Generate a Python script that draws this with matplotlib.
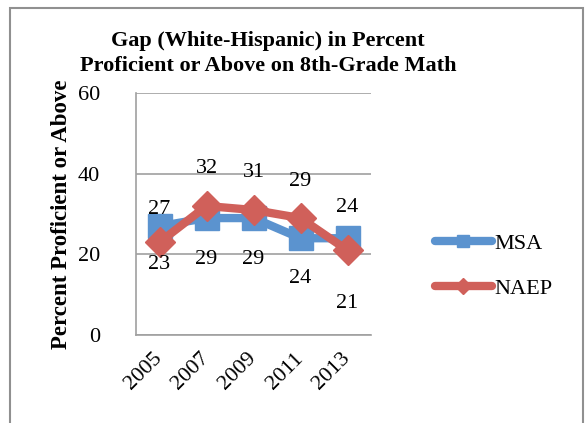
import matplotlib.pyplot as plt
import matplotlib.transforms as mtransforms
from matplotlib.patches import Rectangle

# Data
years = ['2005', '2007', '2009', '2011', '2013']
msa = [27, 29, 29, 24, 24]
naep = [23, 32, 31, 29, 21]

# label offsets (points) as placed in the original chart
msa_off = [12, -30, -30, -29, 22]
naep_off = [-16, 27, 27, 26, -38]

plt.rcParams['font.family'] = ['Liberation Serif', 'DejaVu Serif']

fig = plt.figure(figsize=(5.88, 4.23), dpi=100)
ax = fig.add_axes([0.2313, 0.208, 0.3997, 0.572])

x = list(range(len(years)))
ax.plot(x, msa, color='#5B93CF', lw=6, marker='s', ms=17, label='MSA',
        solid_capstyle='round', zorder=3)
ax.plot(x, naep, color='#D0605A', lw=6, marker='D', ms=15, label='NAEP',
        solid_capstyle='round', zorder=4)

for i in x:
    ax.annotate(str(msa[i]), (i, msa[i]), xytext=(0, msa_off[i]),
                textcoords='offset points', ha='center', va='center',
                fontsize=16, zorder=6)
    ax.annotate(str(naep[i]), (i, naep[i]), xytext=(0, naep_off[i]),
                textcoords='offset points', ha='center', va='center',
                fontsize=16, zorder=6)

ax.set_xlim(-0.5, 4.5)
ax.set_ylim(0, 60)
ax.set_yticks([0, 20, 40, 60])
ax.set_xticks(x)
ax.set_xticklabels(years, rotation=45, fontsize=16, ha='right', rotation_mode='anchor')
ax.tick_params(axis='y', labelsize=16, length=0, pad=26)
ax.tick_params(axis='x', length=0, pad=10)
shift = mtransforms.ScaledTranslation(-5 / 72, 0, fig.dpi_scale_trans)
for lab in ax.get_xticklabels():
    lab.set_transform(lab.get_transform() + shift)
ax.grid(axis='y', color='#A0A0A0', lw=1.2)
for s in ['top', 'right']:
    ax.spines[s].set_visible(False)
ax.spines['left'].set_color('#A0A0A0')
ax.spines['bottom'].set_color('#A0A0A0')
ax.spines['left'].set_linewidth(1.2)
ax.spines['bottom'].set_linewidth(1.2)
ax.set_axisbelow(True)

ax.set_ylabel('Percent Proficient or Above', fontsize=16.5, fontweight='bold', labelpad=4)

fig.text(0.456, 0.873, 'Gap (White-Hispanic) in Percent\nProficient or Above on 8th-Grade Math',
         ha='center', va='center', fontsize=16, fontweight='bold', linespacing=1.3)

leg = fig.legend(loc='center left', bbox_to_anchor=(0.705, 0.37), frameon=False,
                 fontsize=16, handlelength=2.6, labelspacing=1.1, handletextpad=0.1,
                 markerscale=0.55)

fig.patches.append(Rectangle((10 / 588, -0.01), 573 / 588, 1 - 8 / 423 + 0.01,
                             transform=fig.transFigure, fill=False,
                             edgecolor='#909090', lw=1.5))

fig.savefig('out.png', dpi=100)
